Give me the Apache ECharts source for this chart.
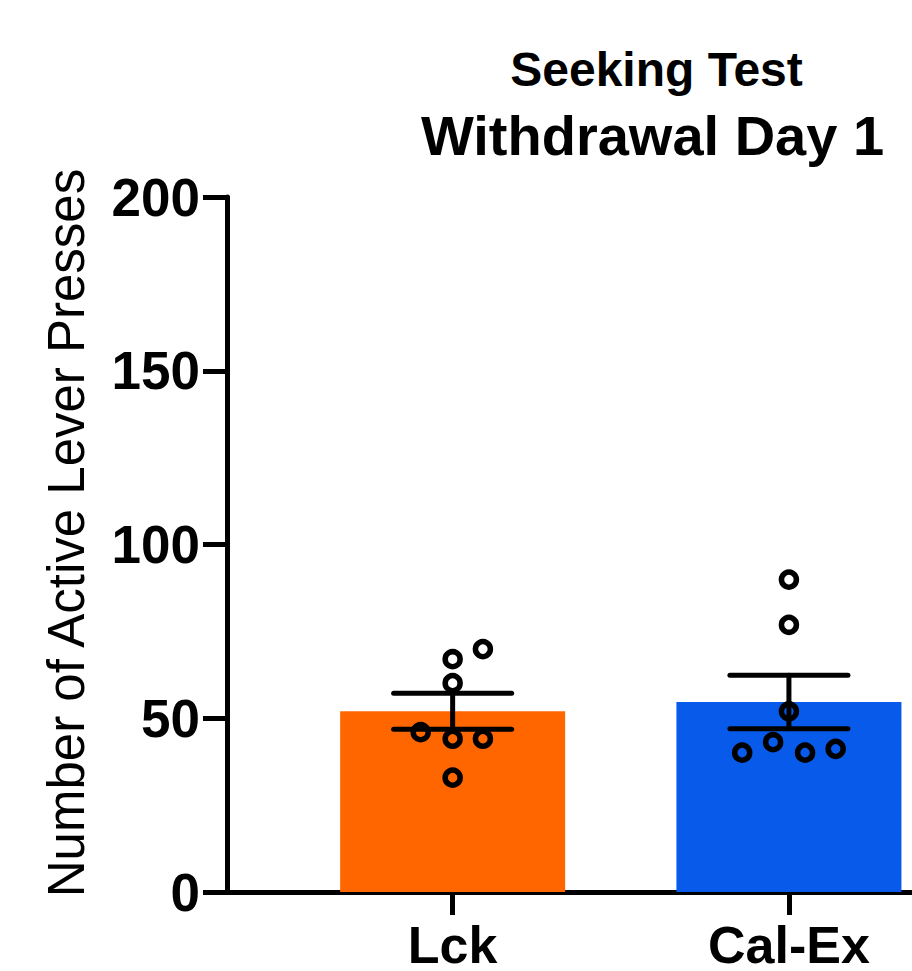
<!DOCTYPE html>
<html>
<head>
<meta charset="utf-8">
<title>Seeking Test – Withdrawal Day 1</title>
<script src="https://cdn.jsdelivr.net/npm/echarts@6/dist/echarts.min.js"></script>
<style>
  html, body { margin: 0; padding: 0; background: #fff; overflow: hidden; }
  #chart { width: 912px; height: 971px; }
</style>
</head>
<body>
<div id="chart"></div>
<script>
// Groups and their summary values (mean ± SEM of active lever presses)
const categories = ['Lck', 'Cal-Ex'];
const means = [52.0, 54.7];
const sems = [5.2, 7.7];

// Individual animals per group
const lckValues = [69.9, 67.0, 60.1, 46.0, 44.1, 44.1, 32.9];
const calExValues = [89.9, 76.9, 52.0, 43.1, 40.1, 40.1, 41.2];

// Horizontal spread of the individual points around each group centre
const lckJitter = [0.09, 0, 0, -0.095, 0, 0.09, 0];
const calExJitter = [0, 0, 0, -0.047, -0.139, 0.048, 0.139];

// y-axis ticks
const yTicks = [0, 50, 100, 150, 200];

const FONT = '"Liberation Sans", Arial, Helvetica, sans-serif';
const groupColors = ['#FF6600', '#075AEA'];

const chart = echarts.init(document.getElementById('chart'), null, { renderer: 'svg' });

const barData = categories.map((c, i) => ({
  value: [i + 1, means[i]],
  itemStyle: { color: groupColors[i] }
}));

const errData = categories.map((c, i) => [i + 1, means[i] - sems[i], means[i] + sems[i]]);

const pointData = [];
lckValues.forEach((v, k) => pointData.push([1 + lckJitter[k], v]));
calExValues.forEach((v, k) => pointData.push([2 + calExJitter[k], v]));

const option = {
  animation: false,
  backgroundColor: '#fff',
  grid: { left: 227, right: 0, top: 197, bottom: 74.5, containLabel: false },
  xAxis: {
    type: 'value',
    min: 0.329,
    max: 2.366,
    splitLine: { show: false },
    axisLine: { show: true, onZero: false, lineStyle: { color: '#000', width: 5 } },
    axisTick: { show: true, customValues: [1, 2], length: 23, lineStyle: { color: '#000', width: 5 } },
    axisLabel: {
      customValues: [1, 2],
      formatter: v => categories[Math.round(v) - 1],
      color: '#000',
      fontFamily: FONT,
      fontWeight: 'bold',
      fontSize: 52,
      margin: 27
    }
  },
  yAxis: {
    type: 'value',
    min: yTicks[0],
    max: yTicks[yTicks.length - 1],
    interval: 50,
    splitLine: { show: false },
    axisLine: { show: true, lineStyle: { color: '#000', width: 5 } },
    axisTick: { show: true, length: 24, lineStyle: { color: '#000', width: 5 } },
    axisLabel: {
      color: '#000',
      fontFamily: FONT,
      fontWeight: 'bold',
      fontSize: 53,
      margin: 27
    }
  },
  graphic: [
    {
      type: 'text',
      x: 656.5, y: 69,
      style: {
        text: 'Seeking Test',
        fill: '#000',
        font: 'bold 48px ' + FONT,
        textAlign: 'center',
        textVerticalAlign: 'middle'
      }
    },
    {
      type: 'text',
      x: 652.5, y: 135,
      style: {
        text: 'Withdrawal Day 1',
        fill: '#000',
        font: 'bold 56px ' + FONT,
        textAlign: 'center',
        textVerticalAlign: 'middle'
      }
    },
    {
      type: 'text',
      x: 66, y: 533,
      rotation: Math.PI / 2,
      style: {
        text: 'Number of Active Lever Presses',
        fill: '#000',
        font: '51px ' + FONT,
        textAlign: 'center',
        textVerticalAlign: 'middle'
      }
    }
  ],
  series: [
    {
      type: 'bar',
      data: barData,
      barWidth: 225,
      z: 1
    },
    {
      type: 'custom',
      data: errData,
      z: 3,
      renderItem: function (params, api) {
        const x = api.value(0);
        const lo = api.coord([x, api.value(1)]);
        const hi = api.coord([x, api.value(2)]);
        const half = 59;
        const style = { stroke: '#000', lineWidth: 5, lineCap: 'round' };
        return {
          type: 'group',
          children: [
            { type: 'line', shape: { x1: lo[0], y1: lo[1], x2: hi[0], y2: hi[1] }, style: style },
            { type: 'line', shape: { x1: hi[0] - half, y1: hi[1], x2: hi[0] + half, y2: hi[1] }, style: style },
            { type: 'line', shape: { x1: lo[0] - half, y1: lo[1], x2: lo[0] + half, y2: lo[1] }, style: style }
          ]
        };
      }
    },
    {
      type: 'scatter',
      data: pointData,
      symbol: 'circle',
      symbolSize: 15,
      z: 4,
      itemStyle: { color: 'rgba(0,0,0,0)', borderColor: '#000', borderWidth: 5.5, opacity: 1 }
    }
  ]
};

chart.setOption(option);
</script>
</body>
</html>
